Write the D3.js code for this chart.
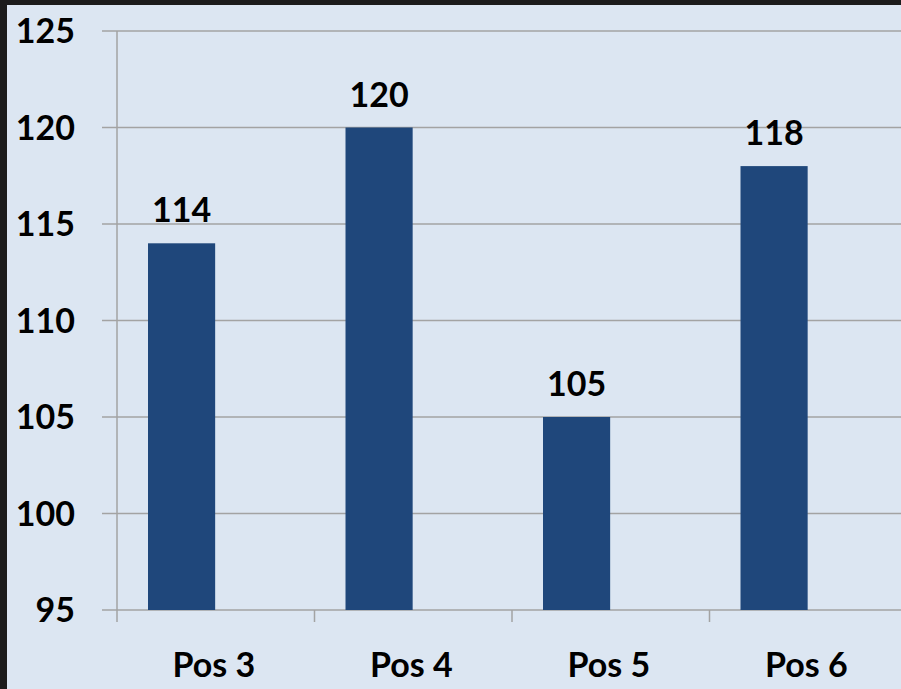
<!DOCTYPE html>
<html lang="en">
<head>
    <meta charset="UTF-8">
    <title>Pos bar chart</title>
    <script src="https://d3js.org/d3.v7.min.js"></script>
    <style>
        body { margin: 0; background: #1c1c1c; }
        svg { display: block; font-family: "Lato", "Open Sans", sans-serif; font-weight: bold; }
    </style>
</head>
<body>
    <div id="chart"></div>
    <script>
        // chart values
        var categories = ["Pos 3", "Pos 4", "Pos 5", "Pos 6"];
        var values = [114, 120, 105, 118];
        var yTicks = [95, 100, 105, 110, 115, 120, 125];

        var width = 901, height = 689;
        var plotLeft = 117, plotTop = 31, plotBottom = 610, plotRight = 907;

        var svg = d3.select("#chart").append("svg")
            .attr("width", width)
            .attr("height", height);

        // dark frame and light panel
        svg.append("rect").attr("width", width).attr("height", height).attr("fill", "#1c1c1c");
        svg.append("rect").attr("x", 7).attr("y", 5)
            .attr("width", width - 7).attr("height", height - 5)
            .attr("fill", "#dce6f2");

        var x = d3.scaleBand().domain(categories).range([plotLeft, plotRight]).padding(0);
        var y = d3.scaleLinear().domain([95, 125]).range([plotBottom, plotTop]);
        var bw = x.bandwidth();

        // gridlines
        svg.append("g").selectAll("line")
            .data(yTicks)
            .join("line")
            .attr("x1", plotLeft - 15).attr("x2", width)
            .attr("y1", d => y(d)).attr("y2", d => y(d))
            .attr("stroke", "#a3a3a3").attr("stroke-width", 1.5);

        // y axis line
        svg.append("line")
            .attr("x1", plotLeft).attr("x2", plotLeft)
            .attr("y1", plotTop).attr("y2", plotBottom + 12)
            .attr("stroke", "#a3a3a3").attr("stroke-width", 1.5);

        // x ticks at band edges
        svg.append("g").selectAll("line")
            .data(categories.slice(1))
            .join("line")
            .attr("x1", d => x(d)).attr("x2", d => x(d))
            .attr("y1", plotBottom).attr("y2", plotBottom + 12)
            .attr("stroke", "#a3a3a3").attr("stroke-width", 1.5);

        // y tick labels
        svg.append("g").selectAll("text")
            .data(yTicks)
            .join("text")
            .attr("x", 75)
            .attr("y", d => y(d))
            .attr("dy", "0.36em")
            .attr("text-anchor", "end")
            .attr("font-size", 34)
            .attr("fill", "#000")
            .text(d => d);

        // bars
        var barW = bw * 0.34;
        var barX = c => x(c) + bw * 0.157;
        svg.append("g").selectAll("rect")
            .data(categories)
            .join("rect")
            .attr("x", barX)
            .attr("y", (c, i) => y(values[i]))
            .attr("width", barW)
            .attr("height", (c, i) => plotBottom - y(values[i]))
            .attr("fill", "#1f477b");

        // value labels
        svg.append("g").selectAll("text")
            .data(categories)
            .join("text")
            .attr("x", c => barX(c) + barW / 2)
            .attr("y", (c, i) => y(values[i]) - 21)
            .attr("text-anchor", "middle")
            .attr("font-size", 34)
            .attr("fill", "#000")
            .text((c, i) => values[i]);

        // category labels
        svg.append("g").selectAll("text")
            .data(categories)
            .join("text")
            .attr("x", c => x(c) + bw * 0.49)
            .attr("y", 677)
            .attr("text-anchor", "middle")
            .attr("font-size", 34)
            .attr("fill", "#000")
            .text(c => c);
    </script>
</body>
</html>
